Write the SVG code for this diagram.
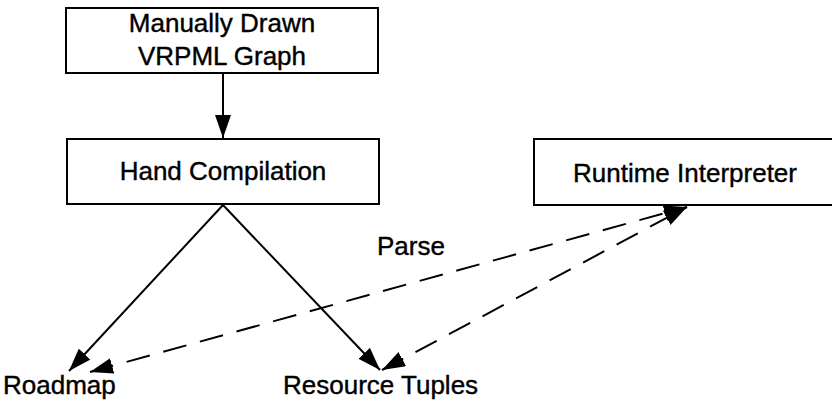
<svg xmlns="http://www.w3.org/2000/svg" width="832" height="408" viewBox="0 0 832 408">
<defs>
<style>
.box{fill:#fff;stroke:#000;stroke-width:2}
.t{font-family:"Liberation Sans",Arial,sans-serif;font-size:26px;fill:#000;stroke:#000;stroke-width:0.4}
.c{text-anchor:middle}
.ln{stroke:#000;stroke-width:2;fill:none}
.d{stroke-dasharray:24 14}
</style>
<marker id="ah" markerUnits="userSpaceOnUse" markerWidth="26" markerHeight="18" refX="23" refY="8" orient="auto-start-reverse" viewBox="0 0 26 18">
<path d="M0,0 L23,8 L0,16 z" fill="#000"/>
</marker>
</defs>
<rect width="832" height="408" fill="#fff"/>
<g id="connectors">
<line class="ln" x1="223" y1="73" x2="223" y2="138" marker-end="url(#ah)"/>
<line class="ln" x1="223" y1="205" x2="69" y2="371" marker-end="url(#ah)"/>
<line class="ln" x1="223" y1="205" x2="380" y2="370" marker-end="url(#ah)"/>
<line class="ln d" x1="90" y1="372" x2="687" y2="207" marker-start="url(#ah)" marker-end="url(#ah)"/>
<line class="ln d" x1="382" y1="370" x2="687" y2="207" marker-start="url(#ah)" marker-end="url(#ah)"/>
<text class="t" x="377" y="255">Parse</text>
</g>
<g id="manual">
<rect class="box" x="66" y="8" width="312" height="65"/>
<text class="t c" x="222" y="32">Manually Drawn</text>
<text class="t c" x="222" y="65">VRPML Graph</text>
</g>
<g id="hand">
<rect class="box" x="67" y="139" width="312" height="65"/>
<text class="t c" x="223" y="180">Hand Compilation</text>
</g>
<g id="runtime">
<rect class="box" x="534" y="139" width="310" height="66"/>
<text class="t c" x="685" y="182">Runtime Interpreter</text>
</g>
<g id="roadmap">
<text class="t" x="3" y="394">Roadmap</text>
</g>
<g id="tuples">
<text class="t" x="283" y="394">Resource Tuples</text>
</g>
</svg>
